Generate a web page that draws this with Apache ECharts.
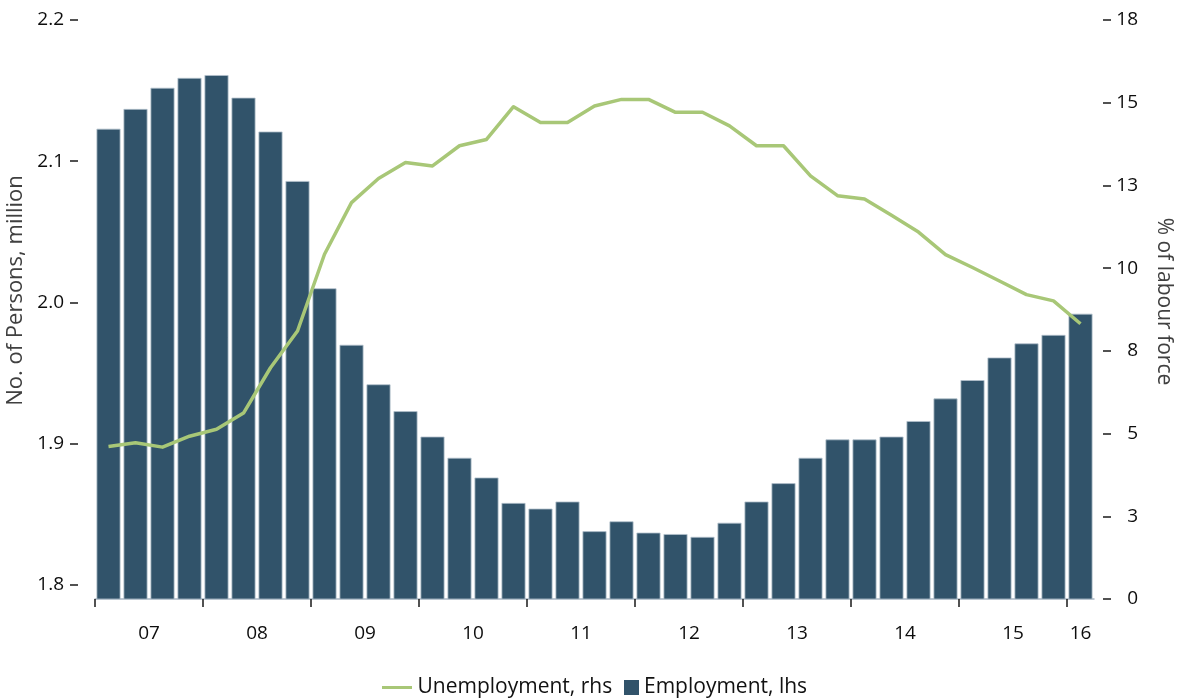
<!DOCTYPE html>
<html>
<head>
<meta charset="utf-8">
<script src="https://cdn.jsdelivr.net/npm/echarts@6/dist/echarts.min.js"></script>
<style>
  html, body { margin: 0; padding: 0; background: #ffffff; }
  #chart { width: 1180px; height: 700px; }
</style>
</head>
<body>
<div id="chart"></div>
<script>
// Quarterly categories, 2007 Q1 to 2016 Q1
const quarters = [
  '2007Q1','2007Q2','2007Q3','2007Q4',
  '2008Q1','2008Q2','2008Q3','2008Q4',
  '2009Q1','2009Q2','2009Q3','2009Q4',
  '2010Q1','2010Q2','2010Q3','2010Q4',
  '2011Q1','2011Q2','2011Q3','2011Q4',
  '2012Q1','2012Q2','2012Q3','2012Q4',
  '2013Q1','2013Q2','2013Q3','2013Q4',
  '2014Q1','2014Q2','2014Q3','2014Q4',
  '2015Q1','2015Q2','2015Q3','2015Q4',
  '2016Q1'
];

// Employment, million persons (left axis)
const employment = [
  2.123, 2.137, 2.152, 2.159,
  2.161, 2.145, 2.121, 2.086,
  2.010, 1.970, 1.942, 1.923,
  1.905, 1.890, 1.876, 1.858,
  1.854, 1.859, 1.838, 1.845,
  1.837, 1.836, 1.834, 1.844,
  1.859, 1.872, 1.890, 1.903,
  1.903, 1.905, 1.916, 1.932,
  1.945, 1.961, 1.971, 1.977,
  1.992
];

// Unemployment rate, % of labour force (right axis)
const unemployment = [
  4.61, 4.72, 4.59, 4.92,
  5.13, 5.62, 6.99, 8.10,
  10.42, 11.98, 12.71, 13.19,
  13.09, 13.70, 13.89, 14.88,
  14.40, 14.40, 14.90, 15.10,
  15.10, 14.71, 14.71, 14.30,
  13.70, 13.70, 12.79, 12.19,
  12.09, 11.60, 11.09, 10.41,
  10.02, 9.61, 9.20, 9.01,
  8.32
];

// Year labels, each centred on its span of quarters
const yearLabels = ['07','08','09','10','11','12','13','14','15','16'];
const yearLabelPos = [2, 6, 10, 14, 18, 22, 26, 30, 34, 36.5];
const yearTickPos = [0, 4, 8, 12, 16, 20, 24, 28, 32, 36];

// Axis tick labels
const leftTicks = [1.8, 1.9, 2.0, 2.1, 2.2];
const leftTickLabels = ['1.8', '1.9', '2.0', '2.1', '2.2'];
const rightTicks = [0, 2.5, 5, 7.5, 10, 12.5, 15, 17.5];
const rightTickLabels = ['0', '3', '5', '8', '10', '13', '15', '18'];

const FONT = 'Open Sans';
const BAR_COLOR = '#31536a';
const LINE_COLOR = '#a8c777';
const TICK_COLOR = '#1a1a1a';
const LABEL_COLOR = '#0d0d0d';

const chart = echarts.init(document.getElementById('chart'), null, { renderer: 'canvas' });

chart.setOption({
  animation: false,
  backgroundColor: '#ffffff',
  grid: {
    left: 95, right: 86, top: 20, bottom: 101,
    containLabel: false,
    outerBoundsMode: 'none'
  },
  legend: [
    {
      data: [{ name: 'Unemployment, rhs', icon: 'path://M0,0 L30,0 L30,3 L0,3 Z' }],
      left: 382, top: 677, padding: 0,
      itemWidth: 31, itemHeight: 3, itemGap: 0,
      textStyle: { fontFamily: FONT, fontSize: 21, color: '#111111' }
    },
    {
      data: [{ name: 'Employment, lhs', icon: 'rect' }],
      left: 624, top: 677, padding: 0,
      itemWidth: 15, itemHeight: 15, itemGap: 0,
      itemStyle: { borderWidth: 0 },
      textStyle: { fontFamily: FONT, fontSize: 21, color: '#111111' }
    }
  ],
  xAxis: [
    {
      type: 'category',
      data: quarters,
      boundaryGap: true,
      show: false
    },
    {
      type: 'value',
      min: 0, max: quarters.length,
      position: 'bottom',
      splitLine: { show: false },
      axisLine: { show: true, lineStyle: { color: '#a9b7c3', width: 1.5 } },
      axisTick: {
        show: true, length: 8, customValues: yearTickPos,
        lineStyle: { color: TICK_COLOR, width: 1.5 }
      },
      axisLabel: {
        show: true, customValues: yearLabelPos, margin: 25,
        fontFamily: FONT, fontSize: 19, color: LABEL_COLOR,
        formatter: function (v) {
          const i = yearLabelPos.indexOf(v);
          return i >= 0 ? yearLabels[i] : '';
        }
      }
    }
  ],
  yAxis: [
    {
      type: 'value',
      position: 'left',
      min: 1.79, max: 2.2,
      name: 'No. of Persons, million',
      nameLocation: 'middle',
      nameRotate: 90,
      nameGap: 63,
      nameTextStyle: { fontFamily: FONT, fontSize: 22, color: '#404040', padding: [0, 0, 0, 38] },
      splitLine: { show: false },
      axisLine: { show: false },
      // tick dash sits 17px away from the plot edge
      axisTick: {
        show: true, length: 25, customValues: leftTicks,
        lineStyle: { color: TICK_COLOR, width: 1.5, type: [0, 17, 8, 100] }
      },
      axisLabel: {
        customValues: leftTicks, margin: 31,
        fontFamily: FONT, fontSize: 19, color: LABEL_COLOR,
        formatter: function (v) {
          const i = leftTicks.findIndex(t => Math.abs(t - v) < 1e-6);
          return i >= 0 ? leftTickLabels[i] : '';
        }
      }
    },
    {
      type: 'value',
      position: 'right',
      min: 0, max: 17.5, interval: 2.5,
      offset: 9,
      name: '% of labour force',
      nameLocation: 'middle',
      nameRotate: -90,
      nameGap: 50,
      nameTextStyle: { fontFamily: FONT, fontSize: 21, color: '#404040', padding: [0, 16, 0, 0] },
      splitLine: { show: false },
      axisLine: { show: false },
      axisTick: { show: true, length: 8, lineStyle: { color: TICK_COLOR, width: 1.5 } },
      axisLabel: {
        margin: 35, align: 'right',
        fontFamily: FONT, fontSize: 19, color: LABEL_COLOR,
        formatter: function (v) {
          const i = rightTicks.findIndex(t => Math.abs(t - v) < 1e-6);
          return i >= 0 ? rightTickLabels[i] : '';
        }
      }
    }
  ],
  series: [
    {
      name: 'Employment, lhs',
      type: 'bar',
      xAxisIndex: 0, yAxisIndex: 0,
      data: employment,
      barWidth: 24,
      itemStyle: { color: BAR_COLOR, borderColor: '#b3c0cb', borderWidth: 0.8 },
      z: 2
    },
    {
      name: 'Unemployment, rhs',
      type: 'line',
      xAxisIndex: 0, yAxisIndex: 1,
      data: unemployment,
      symbol: 'none',
      lineStyle: { color: LINE_COLOR, width: 3.5, join: 'round' },
      itemStyle: { color: LINE_COLOR },
      z: 3
    }
  ]
});
</script>
</body>
</html>
